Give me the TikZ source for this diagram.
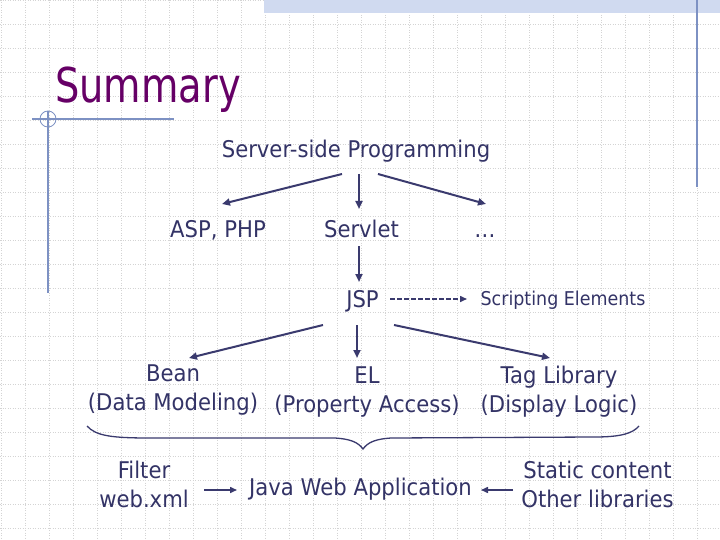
\documentclass[tikz,border=0pt]{standalone}
\usepackage{fontspec}
\setmainfont{DejaVu Sans}[FakeStretch=0.92]
\newfontfamily\titlefont{DejaVu Sans}[FakeStretch=0.8]
\usetikzlibrary{arrows.meta}
\definecolor{txt}{RGB}{51,51,102}
\definecolor{arrc}{RGB}{58,58,110}
\definecolor{ttl}{RGB}{102,0,102}
\definecolor{deco}{RGB}{125,145,195}
\definecolor{band}{RGB}{208,218,240}
\definecolor{gridc}{RGB}{212,212,212}
\tikzset{
  lbl/.style={inner sep=0pt, anchor=base, text=txt, font=\fontsize{23}{29}\selectfont},
  small/.style={inner sep=0pt, anchor=base, text=txt, font=\fontsize{19}{23}\selectfont},
  arr/.style={draw=arrc, line width=2pt, -{Triangle[length=8pt,width=7pt]}},
  darr/.style={draw=arrc, line width=1.5pt, dash pattern=on 4.5pt off 2.5pt, -{Triangle[length=7pt,width=6pt]}},
  barr/.style={draw=arrc, line width=1.5pt, -{Triangle[length=7pt,width=6pt]}},
  gridline/.style={draw=gridc, line width=0.6pt, dash pattern=on 1pt off 1.5pt},
  decoline/.style={draw=deco, line width=1.2pt},
}
\newcommand{\twol}[2]{\begin{tabular}[t]{@{}c@{}}#1\\#2\end{tabular}}
\begin{document}
\begin{tikzpicture}[x=1pt,y=-1pt]
\useasboundingbox (0,0) rectangle (720,540);
\fill[white] (0,0) rectangle (720,540);
% grid
\foreach \gx in {1,25,...,721} \draw[gridline] (\gx,0) -- (\gx,540);
\foreach \gy in {0,24,...,540} \draw[gridline] (0,\gy) -- (720,\gy);
% top band and decorations
\fill[band] (264,0) rectangle (720,13);
\draw[decoline, line width=1.5pt] (697,0) -- (697,187);
\draw[decoline] (32,119) -- (174,119);
\draw[decoline] (48,111) -- (48,293);
\draw[decoline, line width=0.8pt] (48,119) circle (8);
% title
\node[inner sep=0pt, anchor=base west, text=ttl, font=\titlefont\fontsize{48}{52}\selectfont] (title) at (55,103) {Summary};
% nodes
\node[lbl] (spp) at (356,158) {Server-side Programming};
\node[lbl] (asp) at (218,237) {ASP, PHP};
\node[lbl] (servlet) at (361.5,237) {Servlet};
\node[lbl] (dots) at (485,237) {…};
\node[lbl] (jsp) at (362.5,307) {JSP};
\node[small] (se) at (563,305) {Scripting Elements};
\node[lbl] (bean) at (173,381) {\twol{Bean}{(Data Modeling)}};
\node[lbl] (el) at (367,383) {\twol{EL}{(Property Access)}};
\node[lbl] (tag) at (559,383) {\twol{Tag Library}{(Display Logic)}};
\node[lbl] (filter) at (144,478) {\twol{Filter}{web.xml}};
\node[lbl] (java) at (360.5,495) {Java Web Application};
\node[lbl] (static) at (597.5,478) {\twol{Static content}{Other libraries}};
% connectors
\draw[arr] ([shift={(-14,16)}]spp.base) -- ([shift={(4,-33)}]asp.base);
\draw[arr] ([shift={(3,16)}]spp.base) -- ([shift={(-2.5,-28)}]servlet.base);
\draw[arr] ([shift={(22,16)}]spp.base) -- ([shift={(1,-33)}]dots.base);
\draw[arr] ([shift={(-2.5,9)}]servlet.base) -- ([shift={(-3.5,-25)}]jsp.base);
\draw[darr] ([shift={(27.5,-8)}]jsp.base) -- ([shift={(-96,-6)}]se.base);
\draw[arr] ([shift={(-39.5,18)}]jsp.base) -- ([shift={(16,-23)}]bean.base);
\draw[arr] ([shift={(-5.5,18)}]jsp.base) -- ([shift={(-10,-25)}]el.base);
\draw[arr] ([shift={(31.5,18)}]jsp.base) -- ([shift={(-9,-25)}]tag.base);
\draw[barr] ([shift={(60,12)}]filter.base) -- ([shift={(-123.5,-5)}]java.base);
\draw[barr] ([shift={(-84.5,12)}]static.base) -- ([shift={(120.5,-5)}]java.base);
% brace
\draw[draw=arrc, line width=1.3pt] (87,426) .. controls (96,436) and (112,438) .. (150,438)
  -- (335,438) .. controls (350,439) and (358,442) .. (363,449)
  .. controls (368,442) and (376,439) .. (391,438)
  -- (595,437) .. controls (622,437) and (633,433) .. (639,426);
\end{tikzpicture}
\end{document}
